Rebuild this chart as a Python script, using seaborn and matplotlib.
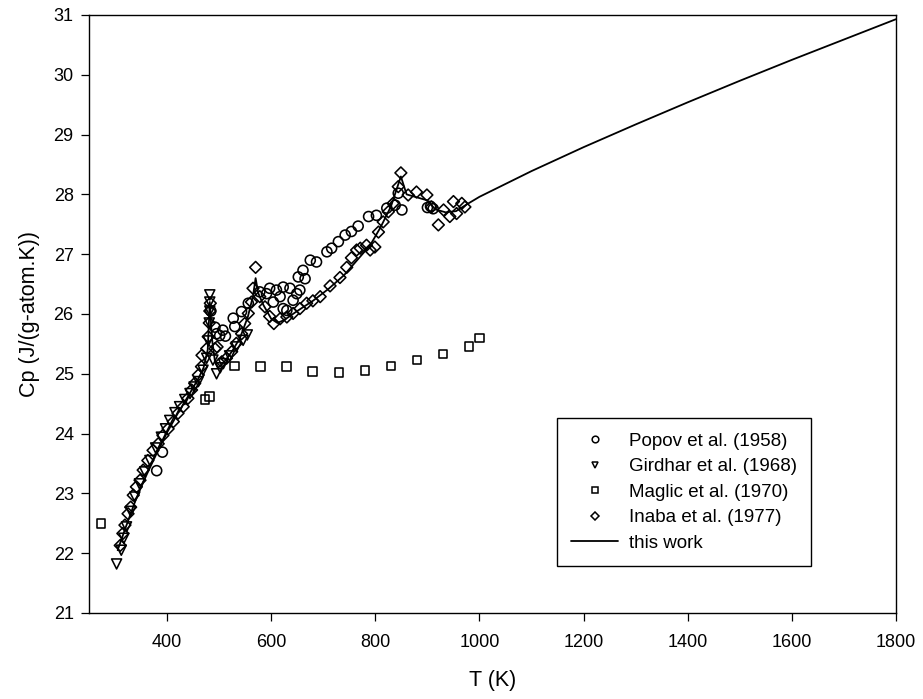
import numpy as np
import pandas as pd
import matplotlib
matplotlib.use("Agg")
import matplotlib.pyplot as plt
from matplotlib.lines import Line2D
import seaborn as sns

# Heat capacity data sets (T in K, Cp in J/(g-atom.K))
popov_T = [380, 391, 484, 492, 495, 501, 507, 512, 527, 530, 543, 556, 578, 591,
           597, 604, 610, 617, 623, 623, 630, 636, 642, 649, 652, 655, 661, 665,
           675, 687, 707, 716, 729, 742, 754, 767, 787, 802, 822, 838, 844, 851,
           900, 906, 911]
popov_Cp = [23.38, 23.69, 26.05, 25.78, 25.67, 25.64, 25.73, 25.63, 25.93, 25.79,
            26.04, 26.18, 26.37, 26.34, 26.43, 26.20, 26.40, 26.29, 26.45, 26.09,
            26.06, 26.43, 26.23, 26.34, 26.62, 26.40, 26.73, 26.59, 26.90, 26.87,
            27.04, 27.10, 27.21, 27.32, 27.38, 27.47, 27.63, 27.65, 27.77, 27.82,
            28.02, 27.74, 27.78, 27.80, 27.76]

girdhar_T = [303, 312, 317, 322, 330, 338, 347, 357, 367, 378, 389, 397, 405, 415,
             424, 434, 444, 452, 460, 469, 476, 479, 481, 482, 482, 482, 488, 495,
             502, 508, 520, 533, 546, 554]
girdhar_Cp = [21.82, 22.05, 22.25, 22.44, 22.70, 22.94, 23.16, 23.36, 23.55, 23.76,
              23.94, 24.08, 24.22, 24.35, 24.45, 24.57, 24.67, 24.78, 24.87, 25.06,
              25.26, 25.55, 25.85, 26.05, 26.20, 26.32, 25.23, 25.00, 25.10, 25.17,
              25.30, 25.45, 25.56, 25.65]

maglic_T = [273, 473, 481, 529, 580, 630, 680, 730, 780, 830, 880, 930, 980, 1000]
maglic_Cp = [22.50, 24.57, 24.62, 25.13, 25.12, 25.12, 25.04, 25.02, 25.06, 25.13,
             25.23, 25.33, 25.46, 25.60]

inaba_T = [310, 315, 319, 325, 330, 335, 341, 348, 354, 363, 373, 383, 392, 402,
           412, 421, 431, 440, 447, 453, 460, 466, 467, 476, 479, 481, 482, 483,
           492, 496, 505, 514, 524, 533, 543, 549, 556, 562, 565, 570, 578, 588,
           597, 605, 617, 630, 642, 655, 668, 680, 694, 713, 732, 745, 754, 764,
           771, 783, 790, 799, 806, 815, 825, 834, 844, 849, 863, 879, 899, 908,
           921, 931, 943, 950, 956, 966, 972]
inaba_Cp = [22.13, 22.33, 22.47, 22.66, 22.77, 22.97, 23.11, 23.22, 23.39, 23.55,
            23.72, 23.83, 23.97, 24.08, 24.20, 24.34, 24.45, 24.59, 24.73, 24.84,
            24.98, 25.12, 25.31, 25.42, 25.62, 25.85, 26.05, 26.18, 25.42, 25.45,
            25.20, 25.26, 25.37, 25.51, 25.67, 25.84, 26.01, 26.20, 26.43, 26.78,
            26.29, 26.12, 25.96, 25.84, 25.92, 25.95, 26.01, 26.09, 26.18, 26.22,
            26.29, 26.47, 26.61, 26.78, 26.94, 27.07, 27.10, 27.15, 27.07, 27.12,
            27.37, 27.54, 27.71, 27.85, 28.13, 28.36, 27.99, 28.04, 27.99, 27.79,
            27.49, 27.74, 27.63, 27.88, 27.68, 27.85, 27.79]

# Assessed curve
work_T = [305, 320, 340, 360, 380, 400, 420, 440, 460, 470, 478, 482, 486, 492,
          498, 510, 525, 540, 555, 565, 570, 575, 585, 600, 612, 625, 650, 680,
          710, 740, 770, 790, 810, 830, 849, 860, 880, 900, 915, 935, 955, 975,
          1000, 1100, 1200, 1300, 1400, 1500, 1600, 1700, 1800]
work_Cp = [22.05, 22.42, 22.90, 23.30, 23.67, 24.02, 24.33, 24.62, 24.92, 25.10,
           25.40, 26.20, 25.60, 25.20, 25.10, 25.20, 25.38, 25.60, 25.95, 26.30,
           26.60, 26.35, 26.15, 25.92, 25.85, 25.90, 26.05, 26.22, 26.42, 26.65,
           26.95, 27.15, 27.45, 27.80, 28.30, 28.00, 27.95, 27.90, 27.75, 27.70,
           27.72, 27.83, 27.96, 28.39, 28.79, 29.17, 29.54, 29.90, 30.25, 30.59,
           30.93]

labels = ["Popov et al. (1958)", "Girdhar et al. (1968)", "Maglic et al. (1970)",
          "Inaba et al. (1977)", "this work"]

sns.set_style("ticks")
plt.rcParams["font.family"] = ["Liberation Sans", "DejaVu Sans"]
plt.rcParams["text.color"] = "black"
plt.rcParams["axes.labelcolor"] = "black"

fig = plt.figure(figsize=(9.23, 6.99), dpi=100)
ax = fig.add_axes([89 / 923, 1 - 613 / 699, 807 / 923, 598 / 699])

mk = dict(color="black", facecolor="none", edgecolor="black", linewidth=1.15,
          legend=False, ax=ax, zorder=3)
sns.lineplot(x=work_T, y=work_Cp, color="black", linewidth=1.3, estimator=None,
             sort=False, ax=ax, zorder=2)
sns.scatterplot(x=popov_T, y=popov_Cp, marker="o", s=52, **mk)
sns.scatterplot(x=girdhar_T, y=girdhar_Cp, marker="v", s=52, **mk)
sns.scatterplot(x=maglic_T, y=maglic_Cp, marker="s", s=40, **mk)
sns.scatterplot(x=inaba_T, y=inaba_Cp, marker="D", s=36, **mk)

ax.set_xlim(250, 1800)
ax.set_ylim(21, 31)
ax.set_xticks([400, 600, 800, 1000, 1200, 1400, 1600, 1800])
ax.set_yticks(np.arange(21, 32, 1))
ax.tick_params(axis="both", direction="out", length=6, width=0.9,
               labelsize=13, colors="black", labelcolor="black")
ax.tick_params(axis="x", pad=9)
ax.tick_params(axis="y", pad=5)
ax.tick_params(top=False, right=False)
for sp in ax.spines.values():
    sp.set_visible(True)
    sp.set_color("black")
    sp.set_linewidth(1.0)

ax.set_xlabel("T (K)", fontsize=15.5, labelpad=14, color="black")
ax.set_ylabel("Cp (J/(g-atom.K))", fontsize=15.5, labelpad=10, color="black")

handles = [
    Line2D([], [], ls="none", marker="o", ms=4.8, mfc="none", mec="black", mew=1.1),
    Line2D([], [], ls="none", marker="v", ms=4.8, mfc="none", mec="black", mew=1.1),
    Line2D([], [], ls="none", marker="s", ms=4.2, mfc="none", mec="black", mew=1.1),
    Line2D([], [], ls="none", marker="D", ms=4.0, mfc="none", mec="black", mew=1.1),
    Line2D([], [], color="black", lw=1.3),
]
leg = ax.legend(handles, labels, loc="lower left", bbox_to_anchor=(0.58, 0.0786),
                borderaxespad=0, fontsize=13.5, frameon=True, fancybox=False,
                edgecolor="black", framealpha=1, handlelength=2.5,
                handletextpad=0.6, labelspacing=0.45, borderpad=0.75)
leg.get_frame().set_linewidth(1.0)
for t in leg.get_texts():
    t.set_color("black")

fig.savefig("out.png", dpi=100, facecolor="white")
